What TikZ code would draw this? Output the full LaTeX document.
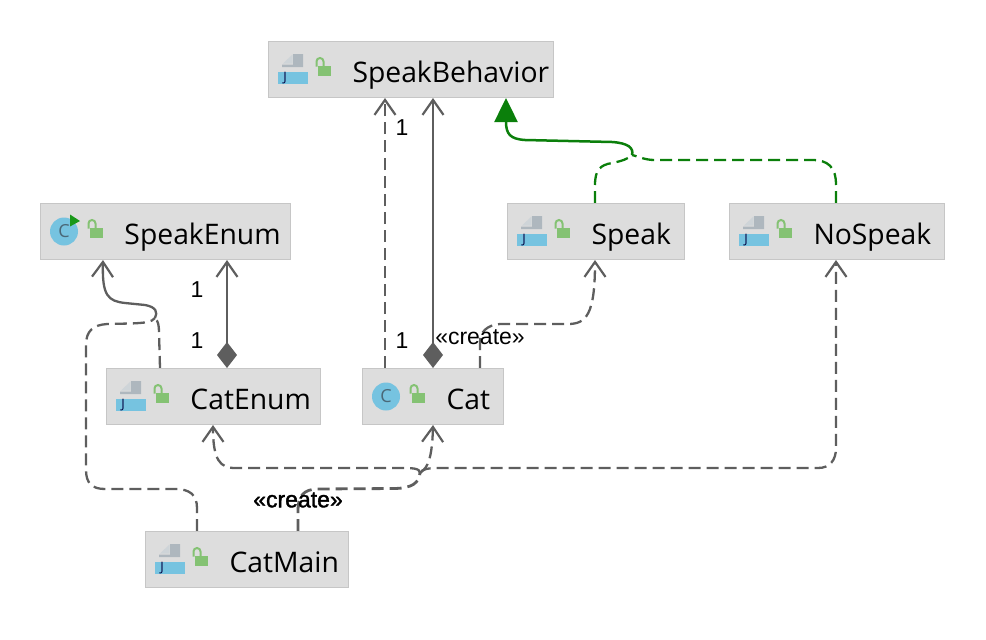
\documentclass[tikz,border=0pt]{standalone}
\usepackage{fontspec}
\setmainfont{Open Sans}
\newfontfamily\labelfont{Liberation Sans}
\newfontfamily\heavylabelfont[FakeBold=1.5]{Liberation Sans}
\usetikzlibrary{arrows.meta,positioning,calc}
\pgfdeclarelayer{bg}
\pgfsetlayers{bg,main}
\definecolor{boxfill}{HTML}{DDDDDD}
\definecolor{boxline}{HTML}{C6C6C6}
\definecolor{linegray}{HTML}{5E5E5E}
\definecolor{inheritgreen}{HTML}{0B7F0B}
\definecolor{iconblue}{HTML}{76C3E0}
\definecolor{icongray}{HTML}{AEB7BE}
\definecolor{lockgreen}{HTML}{84C273}
\tikzset{
  umlbox/.style={draw=boxline,line width=1pt,fill=boxfill,anchor=west,text width=#1,inner xsep=0pt,inner ysep=0pt,
    minimum height=56pt,text height=31pt,text depth=6pt,align=left,font=\fontsize{28.3}{30}\selectfont,
    execute at begin node={\hspace*{84pt}}},
  dep/.style={draw=linegray,line width=2.3pt,dash pattern=on 12pt off 6pt},
  trunk/.style={draw=linegray,line width=2.3pt},
  assoc/.style={draw=linegray,line width=2.8pt},
  opentip/.style={-{Straight Barb[length=15pt,width=21pt,line width=2.2pt]}},
  diamondtip/.style={{Diamond[length=26pt,width=20pt,fill=linegray]}-{Straight Barb[length=15pt,width=21pt,line width=2.2pt]}},
  realize/.style={draw=inheritgreen,line width=2.3pt,dash pattern=on 12pt off 6pt},
  mult/.style={font=\labelfont\fontsize{23}{25}\selectfont},
  stereo/.style={font=\labelfont\fontsize{23}{25}\selectfont},
  lockicon/.pic={
    \fill[lockgreen] (50,-3.5) rectangle (63,6.5);
    \draw[lockgreen,line width=2pt] (48.5,-3) -- (48.5,-8) arc[start angle=180,end angle=0,x radius=3.5,y radius=-3.5] -- (55.5,-3.5);
  },
  javaicon/.pic={
    \fill[icongray] (25,-15.5) -- (35,-15.5) -- (35,-2.5) -- (14,-2.5) -- (14,-5) -- (25,-5) -- cycle;
    \fill[icongray!60] (15,-6) -- (24.5,-15) -- (24.5,-6) -- cycle;
    \fill[iconblue] (10,2.5) rectangle (40,14.5);
    \node[font=\fontsize{13}{14}\selectfont,text=black!75!blue] at (17,8.5) {J};
    \pic {lockicon};
  },
  classicon/.pic={
    \fill[iconblue] (24,0) circle[radius=14];
    \node[font=\fontsize{18}{19}\selectfont,text=black!60!cyan] at (24,0) {C};
    \pic {lockicon};
  },
  runmark/.pic={
    \fill[green!55!black!90] (30,-17) -- (40,-10.5) -- (30,-5) -- cycle;
  },
}
\begin{document}
\begin{tikzpicture}[x=1pt,y=-1pt]
    \useasboundingbox (0,0) rectangle (986,640);

    \node [umlbox=285pt] (behavior) at (268,69.5) {SpeakBehavior};
    \node [umlbox=249.5pt] (speakenum) at (40,231.5) {SpeakEnum};
    \node [umlbox=177pt] (speak) at (507,231.5) {Speak};
    \node [umlbox=215pt] (nospeak) at (729,231.5) {NoSpeak};
    \node [umlbox=213.5pt] (catenum) at (106,396.5) {CatEnum};
    \node [umlbox=141pt] (cat) at (362,396.5) {Cat};
    \node [umlbox=203pt] (catmain) at (145,559.5) {CatMain};

    \pic at (behavior.west) {javaicon};
    \pic at (speakenum.west) {classicon};
    \pic at (speakenum.west) {runmark};
    \pic at (speak.west) {javaicon};
    \pic at (nospeak.west) {javaicon};
    \pic at (catenum.west) {javaicon};
    \pic at (cat.west) {classicon};
    \pic at (catmain.west) {javaicon};

    \coordinate (greenjoin) at (632,155);
    \coordinate (enumjoin) at (155,318);
    \coordinate (mainjoin) at (420,473);

    \begin{pgfonlayer}{bg}    % connectors stay under the boxes
        % Cat to SpeakBehavior
        \draw [dep,opentip] ([xshift=23pt]cat.north west) -- ([xshift=117pt]behavior.south west);
        \draw [assoc,diamondtip] ([xshift=71pt]cat.north west) -- ([xshift=165pt]behavior.south west);
        % Speak, NoSpeak to SpeakBehavior
        \draw [realize] ([xshift=88pt]speak.north west) -- (595,185) .. controls (595,170) and (600,165) .. (612,163) .. controls (622,161) and (628,159) .. (greenjoin);
        \draw [realize] ([xshift=107pt]nospeak.north west) -- (836,185) .. controls (836,167) and (828,160) .. (812,160) -- (655,160) .. controls (645,160) and (640,157) .. (greenjoin);
        \draw [draw=inheritgreen,line width=2.5pt,-{Triangle[length=24pt,width=23pt,fill=inheritgreen]}] (greenjoin) .. controls (634,148) and (628,143) .. (612,142) -- (525,140) .. controls (510,139) and (506,134) .. ([xshift=238pt]behavior.south west);
        % CatEnum to SpeakEnum
        \draw [assoc,diamondtip] ([xshift=121pt]catenum.north west) -- ([xshift=187pt]speakenum.south west);
        % CatEnum, CatMain to SpeakEnum
        \draw [dep] ([xshift=54pt]catenum.north west) -- (159,332) .. controls (159,325) and (158,321) .. (enumjoin);
        \draw [dep] ([xshift=52pt]catmain.north west) -- (197,508) .. controls (197,495) and (190,489) .. (175,489) -- (105,489) .. controls (92,489) and (86,483) .. (86,470) -- (86,345) .. controls (86,331) and (93,325) .. (107,324) -- (130,323.5) .. controls (145,323) and (152,322) .. (enumjoin);
        \draw [trunk,opentip] (enumjoin) .. controls (158,312) and (156,307) .. (145,305) -- (125,303) .. controls (108,301) and (102,296) .. ([xshift=63pt]speakenum.south west);
        % Cat to Speak
        \draw [dep,opentip] ([xshift=118pt]cat.north west) -- (480,342) .. controls (480,332) and (487,325) .. (500,324) -- (568,324) .. controls (586,324) and (595,315) .. ([xshift=88pt]speak.south west);
        % CatMain to CatEnum, Cat, NoSpeak
        \draw [dep,line width=2.8pt] ([xshift=153pt]catmain.north west) -- (298,510) .. controls (298,497) and (303,489) .. (318,489) -- (395,488.5) .. controls (412,488) and (419,483) .. (mainjoin);
        \draw [dep,opentip] (mainjoin) .. controls (420,468) and (412,468) .. (400,468) -- (235,468) .. controls (220,468) and (213,460) .. ([xshift=107pt]catenum.south west);
        \draw [dep,opentip] (mainjoin) .. controls (424,469) and (432,468) .. ([xshift=71pt]cat.south west);
        \draw [dep,opentip] (mainjoin) .. controls (422,469) and (428,468) .. (440,468) -- (818,468) .. controls (830,468) and (836,460) .. (836,448) -- ([xshift=107pt]nospeak.south west);
    \end{pgfonlayer}

    \node [mult] (one1) at (402,128) {1};
    \node [mult] (one2) at (402,341) {1};
    \node [mult] (one3) at (197,290) {1};
    \node [mult] (one4) at (197,341) {1};
    \node [stereo] (createcat) at (480,337) {«create»};
    \node [stereo,font=\heavylabelfont\fontsize{23}{25}\selectfont] (createmain) at (298,500) {«create»};
\end{tikzpicture}
\end{document}
